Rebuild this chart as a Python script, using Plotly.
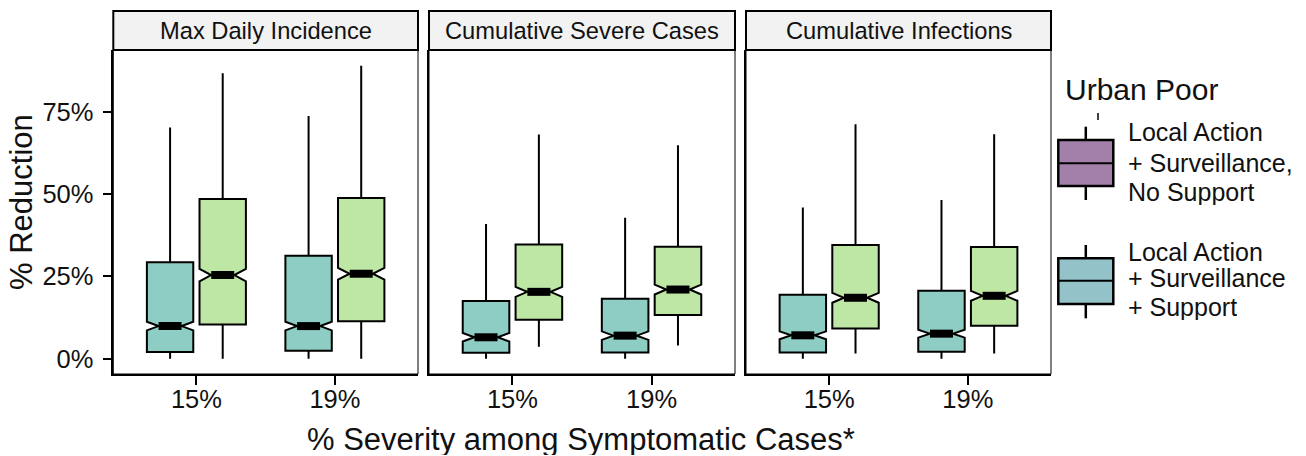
import plotly.graph_objects as go

W, H = 1306, 456

# ---------------- data ----------------
categories = ["15%", "19%"]
panels = ["Max Daily Incidence", "Cumulative Severe Cases", "Cumulative Infections"]
series_names = ["Local Action + Surveillance, No Support", "Local Action + Surveillance + Support"]
series_colors = ["#8ECDC3", "#BEE6A4"]

# per panel, per series: lists over categories
lower = [
    [[0.000, 0.000], [0.000, 0.000]],
    [[0.000, 0.000], [0.036, 0.040]],
    [[0.000, 0.000], [0.016, 0.016]],
]
q1 = [
    [[0.020, 0.024], [0.104, 0.114]],
    [[0.018, 0.019], [0.118, 0.133]],
    [[0.019, 0.021], [0.092, 0.100]],
]
median = [
    [[0.099, 0.099], [0.254, 0.258]],
    [[0.065, 0.070], [0.203, 0.210]],
    [[0.071, 0.076], [0.185, 0.191]],
]
q3 = [
    [[0.293, 0.313], [0.485, 0.488]],
    [[0.175, 0.182], [0.347, 0.340]],
    [[0.194, 0.206], [0.345, 0.339]],
]
upper = [
    [[0.702, 0.737], [0.867, 0.890]],
    [[0.409, 0.428], [0.681, 0.648]],
    [[0.459, 0.482], [0.712, 0.682]],
]
notch = [
    [[0.013, 0.013], [0.019, 0.018]],
    [[0.013, 0.013], [0.015, 0.015]],
    [[0.012, 0.012], [0.015, 0.015]],
]

y_tickvals = [0, 0.25, 0.5, 0.75]
y_ticktext = ["0%", "25%", "50%", "75%"]

legend_title = "Urban Poor"
legend_labels = [["Local Action", "+ Surveillance,", "No Support"],
                 ["Local Action", "+ Surveillance", "+ Support"]]
legend_colors = ["#A380A9", "#93C2C8"]

x_title = "% Severity among Symptomatic Cases*"
y_title = "% Reduction"

# ---------------- layout helpers ----------------
FONT = "Liberation Sans, Arial, Helvetica, sans-serif"
def PX(x): return x / W
def PY(y): return 1 - y / H

panel_px = [(113.3, 418.0), (429.0, 735.0), (746.0, 1051.0)]
plot_top, plot_bot, strip_top = 50.0, 374.0, 11.0
dodge = 0.19
box_w = 0.335
bar_half = 0.083

fig = go.Figure()
shapes, annotations = [], []

for p in range(3):
    xa = "x" if p == 0 else f"x{p+1}"
    ya = "y" if p == 0 else f"y{p+1}"
    for s in range(2):
        off = -dodge if s == 0 else dodge
        pos = [i + 1 + off for i in range(len(categories))]
        fig.add_trace(go.Box(
            x=pos, q1=q1[p][s], median=median[p][s], q3=q3[p][s],
            lowerfence=lower[p][s], upperfence=upper[p][s], notchspan=notch[p][s],
            notched=True, notchwidth=0.25, width=box_w, whiskerwidth=0,
            fillcolor=series_colors[s], line=dict(color="black", width=2),
            boxpoints=False, name=series_names[s], showlegend=False,
            xaxis=xa, yaxis=ya, hoverinfo="skip"))
        bx, by = [], []
        for i, c in enumerate(pos):
            bx += [c - bar_half, c + bar_half, None]
            by += [median[p][s][i], median[p][s][i], None]
        fig.add_trace(go.Scatter(x=bx, y=by, mode="lines",
                                 line=dict(color="black", width=8),
                                 showlegend=False, hoverinfo="skip",
                                 xaxis=xa, yaxis=ya))
    x0, x1 = panel_px[p]
    dom = [PX(x0), PX(x1)]
    xkey = "xaxis" if p == 0 else f"xaxis{p+1}"
    ykey = "yaxis" if p == 0 else f"yaxis{p+1}"
    fig.layout[xkey] = dict(domain=dom, range=[0.4, 2.6], anchor=ya,
                            tickvals=[1, 2], ticktext=categories,
                            ticks="outside", ticklen=9, tickwidth=1.5, tickcolor="black",
                            ticklabelstandoff=-8,
                            showline=True, linewidth=2, linecolor="black",
                            showgrid=False, zeroline=False,
                            tickfont=dict(family=FONT, size=25.5, color="#111"))
    fig.layout[ykey] = dict(domain=[PY(plot_bot), PY(plot_top)], range=[-0.0465, 0.9375],
                            anchor=xa, tickvals=y_tickvals, ticktext=y_ticktext,
                            ticks="outside" if p == 0 else "", ticklen=9, tickwidth=1.5,
                            tickcolor="black", showticklabels=(p == 0),
                            ticklabelstandoff=4,
                            showline=True, linewidth=1.5, linecolor="black",
                            showgrid=False, zeroline=False,
                            tickfont=dict(family=FONT, size=25.5, color="#111"))
    # panel border
    shapes.append(dict(type="rect", xref="paper", yref="paper",
                       x0=PX(x0), x1=PX(x1), y0=PY(plot_bot), y1=PY(plot_top),
                       line=dict(color="black", width=1), fillcolor="rgba(0,0,0,0)", layer="above"))
    # strip
    shapes.append(dict(type="rect", xref="paper", yref="paper",
                       x0=PX(x0), x1=PX(x1), y0=PY(plot_top), y1=PY(strip_top),
                       line=dict(color="black", width=2), fillcolor="#F2F2F2", layer="above"))
    annotations.append(dict(text=panels[p], xref="paper", yref="paper",
                            x=PX((x0 + x1) / 2), y=PY((plot_top + strip_top) / 2 + 1),
                            xanchor="center", yanchor="middle", showarrow=False,
                            font=dict(family=FONT, size=23.7, color="#111")))

# axis titles
annotations.append(dict(text=x_title, xref="paper", yref="paper", x=PX(581), y=PY(439),
                        xanchor="center", yanchor="middle", showarrow=False, height=31,
                        font=dict(family=FONT, size=31, color="#111")))
annotations.append(dict(text=y_title, xref="paper", yref="paper", x=PX(22), y=PY(202),
                        xanchor="center", yanchor="middle", showarrow=False, textangle=-90,
                        font=dict(family=FONT, size=31, color="#111")))

# custom legend
annotations.append(dict(text=legend_title, xref="paper", yref="paper", x=PX(1063), y=PY(89),
                        xanchor="left", yanchor="middle", showarrow=False,
                        font=dict(family=FONT, size=30, color="#111")))
leg_boxes = [(140, 163.3, 186, 126.7, 200), (258.3, 280.7, 304, 245, 318.3)]
leg_text_y = [[131.7, 163, 191.7], [251.7, 278.3, 306.7]]
lx0, lx1 = 1058.3, 1113.3
lxc = (lx0 + lx1) / 2
for k in range(2):
    top, mid, bot, wt, wb = leg_boxes[k]
    shapes.append(dict(type="line", xref="paper", yref="paper", x0=PX(lxc), x1=PX(lxc),
                       y0=PY(wt), y1=PY(top), line=dict(color="black", width=2.5)))
    shapes.append(dict(type="line", xref="paper", yref="paper", x0=PX(lxc), x1=PX(lxc),
                       y0=PY(bot), y1=PY(wb), line=dict(color="black", width=2.5)))
    shapes.append(dict(type="rect", xref="paper", yref="paper", x0=PX(lx0), x1=PX(lx1),
                       y0=PY(bot), y1=PY(top), fillcolor=legend_colors[k],
                       line=dict(color="black", width=2.5)))
    shapes.append(dict(type="line", xref="paper", yref="paper", x0=PX(lx0), x1=PX(lx1),
                       y0=PY(mid), y1=PY(mid), line=dict(color="black", width=2)))
    for j, t in enumerate(legend_labels[k]):
        annotations.append(dict(text=t, xref="paper", yref="paper", x=PX(1126), y=PY(leg_text_y[k][j]),
                                xanchor="left", yanchor="middle", showarrow=False, height=26,
                                font=dict(family=FONT, size=25, color="#111")))
shapes.append(dict(type="line", xref="paper", yref="paper", x0=PX(1098), x1=PX(1098),
                   y0=PY(113), y1=PY(120), line=dict(color="black", width=1.5)))

fig.update_layout(width=W, height=H, margin=dict(l=0, r=0, t=0, b=0),
                  paper_bgcolor="white", plot_bgcolor="white",
                  shapes=shapes, annotations=annotations, showlegend=False,
                  font=dict(family=FONT, color="#111"))

fig.write_html("out.html", config={"displayModeBar": False},
               post_script="document.body.style.margin='0';document.body.style.padding='0';document.body.style.overflow='hidden';")
